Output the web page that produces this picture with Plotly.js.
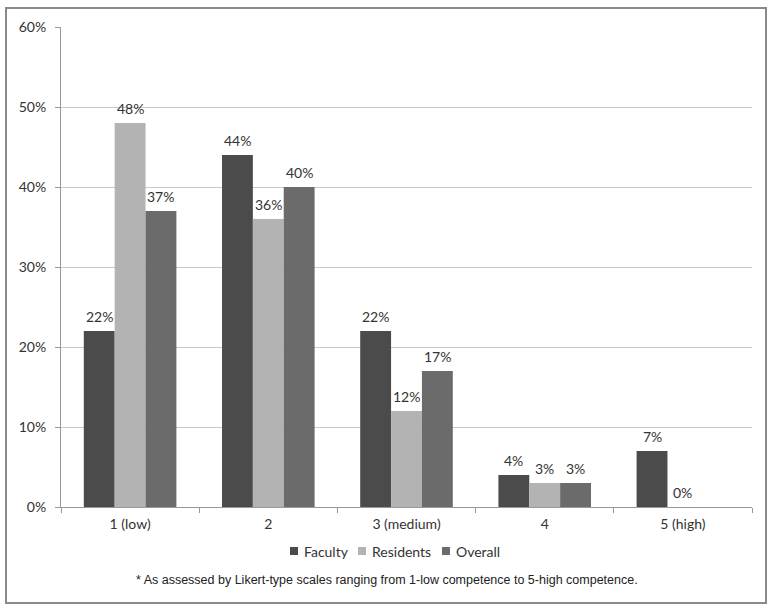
<!DOCTYPE html>
<html>
<head>
<meta charset="utf-8">
<script src="https://cdn.plot.ly/plotly-3.0.1.min.js"></script>
<style>html,body{margin:0;padding:0;background:#fff;}#chart{width:773px;height:609px;}</style>
</head>
<body>
<div id="chart"></div>
<script>
const categories = ["1 (low)", "2", "3 (medium)", "4", "5 (high)"];
const seriesNames = ["Faculty", "Residents", "Overall"];
const faculty = [22, 44, 22, 4, 7];
const residents = [48, 36, 12, 3, 0];
const overall = [37, 40, 17, 3, null];
const yTicks = [0, 10, 20, 30, 40, 50, 60];
const footnote = "* As assessed by Likert-type scales ranging from 1-low competence to 5-high competence.";

const font = "Lato, 'Open Sans', sans-serif";
const colors = ["#4b4b4b", "#b3b3b3", "#6b6b6b"];
const allVals = [faculty, residents, overall];

// pixel helpers (plot area: x 61..752, y 27..507)
const W = 773, H = 609, L = 61, R = 21, T = 27, B = 102;
const pw = W - L - R, ph = H - T - B;
const px = p => (p - L) / pw;
const py = p => (H - B - p) / ph;

const bargap = 0.33;
const barPx = (pw / categories.length) * (1 - bargap) / 3;

const data = allVals.map((vals, i) => ({
  type: "bar", name: seriesNames[i], x: categories, y: vals,
  marker: {color: colors[i], line: {width: 0}},
  hoverinfo: "none", showlegend: false
}));

const annotations = [];
allVals.forEach((vals, i) => {
  vals.forEach((v, j) => {
    if (v === null) return;
    annotations.push({xref: "x", yref: "y", x: j, y: v,
      xshift: (i - 1) * barPx, yshift: 4, yanchor: "bottom", xanchor: "center",
      text: v + "%", showarrow: false,
      font: {family: font, size: 14, color: "#333"}});
  });
});

// legend (custom, to match the compact Excel style)
const legSquares = [290, 358, 442];
const legTextX = [302, 370, 454];
const legY = 551;
const shapes = [{type: "rect", xref: "paper", yref: "paper",
  x0: px(6), x1: px(766), y0: py(603), y1: py(8),
  line: {color: "#8a8a8a", width: 2}, fillcolor: "rgba(0,0,0,0)", layer: "below"}];
seriesNames.forEach((n, i) => {
  shapes.push({type: "rect", xref: "paper", yref: "paper",
    x0: px(legSquares[i]), x1: px(legSquares[i] + 8), y0: py(legY + 4), y1: py(legY - 4),
    line: {width: 0}, fillcolor: colors[i]});
  annotations.push({xref: "paper", yref: "paper", x: px(legTextX[i]), y: py(legY),
    xanchor: "left", yanchor: "middle", text: n, showarrow: false,
    font: {family: font, size: 14, color: "#333"}});
});

annotations.push({xref: "paper", yref: "paper", x: px(387), y: py(580), xanchor: "center", yanchor: "middle",
  text: footnote, showarrow: false,
  font: {family: "'Liberation Sans', Arial, sans-serif", size: 12.5, color: "#222"}});

const layout = {
  width: W, height: H,
  margin: {l: L, r: R, t: T, b: B},
  paper_bgcolor: "#fff", plot_bgcolor: "#fff",
  barmode: "group", bargap: bargap, bargroupgap: 0,
  font: {family: font, size: 14, color: "#333"},
  showlegend: false,
  xaxis: {type: "category", showgrid: false, showline: true, linecolor: "#999", linewidth: 1,
          ticks: "outside", tickson: "boundaries", ticklen: 5, tickcolor: "#999",
          ticklabelstandoff: 4,
          tickfont: {family: font, size: 14, color: "#333"}, fixedrange: true},
  yaxis: {range: [0, 60], tickvals: yTicks, ticktext: yTicks.map(v => v + "%"),
          showgrid: true, gridcolor: "#c8c8c8", gridwidth: 1, zeroline: false,
          showline: true, linecolor: "#999", linewidth: 1,
          ticks: "outside", ticklen: 5, tickcolor: "#999", ticklabelstandoff: 6,
          tickfont: {family: font, size: 14, color: "#333"}, fixedrange: true},
  shapes: shapes,
  annotations: annotations
};
Plotly.newPlot("chart", data, layout, {displayModeBar: false, staticPlot: true});
</script>
</body>
</html>
